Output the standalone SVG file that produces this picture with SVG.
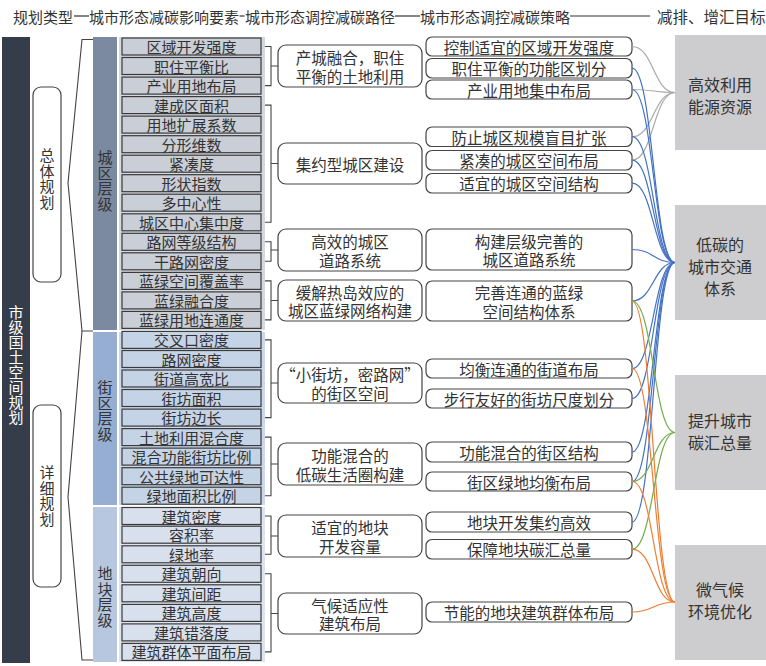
<svg xmlns="http://www.w3.org/2000/svg" width="766" height="666" viewBox="0 0 766 666">
<style>
text{font-family:"Noto Sans CJK SC","Noto Sans",sans-serif;fill:#333;dominant-baseline:central;text-anchor:middle}
.hd{font-size:15px;text-anchor:start}
.el{font-size:15px}
.md{font-size:15.5px}
.tg{font-size:16px}
.vt{font-size:15px;writing-mode:vertical-rl;text-orientation:upright}
.wt{fill:#fff}
.ebox{stroke:#3a3a3a;stroke-width:1.2}
.c1{fill:#c9ced7}.c2{fill:#c5d3e7}.c3{fill:#d8e0ed}
.pbox{fill:#fff;stroke:#444;stroke-width:1.2}
.tbox{fill:#cdcdcf}
.br{fill:none;stroke:#444;stroke-width:1.1}
.hl{stroke:#333;stroke-width:1.2}
.cn{fill:none;stroke-width:1.2}
.gr{stroke:#a9a9a9}.bl{stroke:#4472c4}.gn{stroke:#70ad47}.or{stroke:#ed7d31}
</style>
<rect width="766" height="666" fill="#fff"/>
<g id="header">
<text class="hd" x="13" y="16">规划类型</text>
<line class="hl" x1="74" y1="16" x2="89" y2="16"/>
<text class="hd" x="89" y="16">城市形态减碳影响要素</text>
<line class="hl" x1="239.5" y1="16" x2="244.5" y2="16"/>
<text class="hd" x="245" y="16">城市形态调控减碳路径</text>
<line class="hl" x1="395" y1="16" x2="420" y2="16"/>
<text class="hd" x="420" y="16">城市形态调控减碳策略</text>
<line class="hl" x1="570" y1="16" x2="650" y2="16"/>
<text class="hd" x="657" y="16" style="font-size:15.5px">减排、增汇目标</text>
</g>
<g id="plan-type">
<rect x="2" y="37" width="28" height="626" fill="#353d4b"/>
<text class="vt wt" x="16" y="365">市级国土空间规划</text>
</g>
<g id="overall-plan">
<rect x="33" y="87" width="28" height="195" rx="8" fill="#fff" stroke="#444" stroke-width="1.2"/>
<text class="vt" x="47" y="179" letter-spacing="0.5">总体规划</text>
</g>
<g id="detail-plan">
<rect x="33" y="405" width="28" height="182" rx="8" fill="#fff" stroke="#444" stroke-width="1.2"/>
<text class="vt" x="47" y="496" letter-spacing="0.5">详细规划</text>
</g>
<g id="plan-brackets">
<polyline class="br" points="93,39.5 82,39.5 68,183 82,331 93,331"/>
<polyline class="br" points="82,331 68,497 82,660 93,660"/>
</g>
<g id="level-city">
<rect x="93" y="37" width="24" height="293" fill="#7b8aa0"/>
<rect x="119" y="37" width="146" height="293" fill="#d3d7de"/>
<text class="vt" x="105" y="181" letter-spacing="0.5">城区层级</text>
</g>
<g id="level-block">
<rect x="93" y="332" width="24" height="173" fill="#95aed2"/>
<rect x="119" y="332" width="146" height="173" fill="#ccd8ea"/>
<text class="vt" x="105" y="411" letter-spacing="0.5">街区层级</text>
</g>
<g id="level-plot">
<rect x="93" y="507" width="24" height="155" fill="#b7c7df"/>
<rect x="119" y="507" width="146" height="155" fill="#dde4ef"/>
<text class="vt" x="105" y="597" letter-spacing="0.5">地块层级</text>
</g>
<g id="elements">
<g id="e1"><rect class="ebox c1" x="122" y="38" width="139" height="17"/><text class="el" x="191.5" y="46.5">区域开发强度</text></g>
<g id="e2"><rect class="ebox c1" x="122" y="57.5" width="139" height="17"/><text class="el" x="191.5" y="66">职住平衡比</text></g>
<g id="e3"><rect class="ebox c1" x="122" y="77.1" width="139" height="17"/><text class="el" x="191.5" y="85.6">产业用地布局</text></g>
<g id="e4"><rect class="ebox c1" x="122" y="96.6" width="139" height="17"/><text class="el" x="191.5" y="105.1">建成区面积</text></g>
<g id="e5"><rect class="ebox c1" x="122" y="116.1" width="139" height="17"/><text class="el" x="191.5" y="124.6">用地扩展系数</text></g>
<g id="e6"><rect class="ebox c1" x="122" y="135.7" width="139" height="17"/><text class="el" x="191.5" y="144.2">分形维数</text></g>
<g id="e7"><rect class="ebox c1" x="122" y="155.2" width="139" height="17"/><text class="el" x="191.5" y="163.7">紧凑度</text></g>
<g id="e8"><rect class="ebox c1" x="122" y="174.7" width="139" height="17"/><text class="el" x="191.5" y="183.2">形状指数</text></g>
<g id="e9"><rect class="ebox c1" x="122" y="194.2" width="139" height="17"/><text class="el" x="191.5" y="202.7">多中心性</text></g>
<g id="e10"><rect class="ebox c1" x="122" y="213.8" width="139" height="17"/><text class="el" x="191.5" y="222.3">城区中心集中度</text></g>
<g id="e11"><rect class="ebox c1" x="122" y="233.3" width="139" height="17"/><text class="el" x="191.5" y="241.8">路网等级结构</text></g>
<g id="e12"><rect class="ebox c1" x="122" y="252.8" width="139" height="17"/><text class="el" x="191.5" y="261.3">干路网密度</text></g>
<g id="e13"><rect class="ebox c1" x="122" y="272.4" width="139" height="17"/><text class="el" x="191.5" y="280.9">蓝绿空间覆盖率</text></g>
<g id="e14"><rect class="ebox c1" x="122" y="291.9" width="139" height="17"/><text class="el" x="191.5" y="300.4">蓝绿融合度</text></g>
<g id="e15"><rect class="ebox c1" x="122" y="311.4" width="139" height="17"/><text class="el" x="191.5" y="319.9">蓝绿用地连通度</text></g>
<g id="e16"><rect class="ebox c2" x="122" y="331.4" width="139" height="17"/><text class="el" x="191.5" y="339.9">交叉口密度</text></g>
<g id="e17"><rect class="ebox c2" x="122" y="350.5" width="139" height="17"/><text class="el" x="191.5" y="359">路网密度</text></g>
<g id="e18"><rect class="ebox c2" x="122" y="370" width="139" height="17"/><text class="el" x="191.5" y="378.5">街道高宽比</text></g>
<g id="e19"><rect class="ebox c2" x="122" y="389.5" width="139" height="17"/><text class="el" x="191.5" y="398">街坊面积</text></g>
<g id="e20"><rect class="ebox c2" x="122" y="409.1" width="139" height="17"/><text class="el" x="191.5" y="417.6">街坊边长</text></g>
<g id="e21"><rect class="ebox c2" x="122" y="428.6" width="139" height="17"/><text class="el" x="191.5" y="437.1">土地利用混合度</text></g>
<g id="e22"><rect class="ebox c2" x="122" y="448.1" width="139" height="17"/><text class="el" x="191.5" y="456.6">混合功能街坊比例</text></g>
<g id="e23"><rect class="ebox c2" x="122" y="467.7" width="139" height="17"/><text class="el" x="191.5" y="476.2">公共绿地可达性</text></g>
<g id="e24"><rect class="ebox c2" x="122" y="487.2" width="139" height="17"/><text class="el" x="191.5" y="495.7">绿地面积比例</text></g>
<g id="e25"><rect class="ebox c3" x="122" y="507.5" width="139" height="17"/><text class="el" x="191.5" y="516">建筑密度</text></g>
<g id="e26"><rect class="ebox c3" x="122" y="526.2" width="139" height="17"/><text class="el" x="191.5" y="534.7">容积率</text></g>
<g id="e27"><rect class="ebox c3" x="122" y="545.8" width="139" height="17"/><text class="el" x="191.5" y="554.3">绿地率</text></g>
<g id="e28"><rect class="ebox c3" x="122" y="565.3" width="139" height="17"/><text class="el" x="191.5" y="573.8">建筑朝向</text></g>
<g id="e29"><rect class="ebox c3" x="122" y="584.8" width="139" height="17"/><text class="el" x="191.5" y="593.3">建筑间距</text></g>
<g id="e30"><rect class="ebox c3" x="122" y="604.4" width="139" height="17"/><text class="el" x="191.5" y="612.9">建筑高度</text></g>
<g id="e31"><rect class="ebox c3" x="122" y="623.9" width="139" height="17"/><text class="el" x="191.5" y="632.4">建筑错落度</text></g>
<g id="e32"><rect class="ebox c3" x="122" y="643.4" width="139" height="17"/><text class="el" x="191.5" y="651.9">建筑群体平面布局</text></g>
</g>
<g id="group-brackets">
<path class="br" d="M265,46.5H271V85.6H265M271,66H278"/>
<path class="br" d="M265,105.1H271V222.3H265M271,163.5H278"/>
<path class="br" d="M265,241.8H271V261.3H265M271,250H278"/>
<path class="br" d="M265,280.9H271V319.9H265M271,300.5H278"/>
<path class="br" d="M265,339.9H271V417.6H265M271,383H278"/>
<path class="br" d="M265,437.1H271V495.7H265M271,464H278"/>
<path class="br" d="M265,516H271V554.3H265M271,536H278"/>
<path class="br" d="M265,573.8H271V651.9H265M271,613.5H278"/>
</g>
<g id="paths">
<g id="p1"><rect class="pbox" x="278" y="45" width="144" height="42" rx="8"/><text class="md" x="350" y="57">产城融合，职住<tspan x="350" dy="18.5">平衡的土地利用</tspan></text></g>
<g id="p2"><rect class="pbox" x="278" y="143" width="144" height="41" rx="8"/><text class="md" x="350" y="163.5">集约型城区建设</text></g>
<g id="p3"><rect class="pbox" x="278" y="229" width="144" height="42" rx="8"/><text class="md" x="350" y="241">高效的城区<tspan x="350" dy="18.5">道路系统</tspan></text></g>
<g id="p4"><rect class="pbox" x="278" y="280" width="144" height="41" rx="8"/><text class="md" x="350" y="291.5">缓解热岛效应的<tspan x="350" dy="18.5">城区蓝绿网络构建</tspan></text></g>
<g id="p5"><rect class="pbox" x="278" y="363" width="144" height="40" rx="8"/><text class="md" x="350" y="374">“小街坊，密路网”<tspan x="350" dy="18.5">的街区空间</tspan></text></g>
<g id="p6"><rect class="pbox" x="278" y="443" width="144" height="42" rx="8"/><text class="md" x="350" y="455">功能混合的<tspan x="350" dy="18.5">低碳生活圈构建</tspan></text></g>
<g id="p7"><rect class="pbox" x="278" y="515" width="144" height="42" rx="8"/><text class="md" x="350" y="527">适宜的地块<tspan x="350" dy="18.5">开发容量</tspan></text></g>
<g id="p8"><rect class="pbox" x="278" y="593" width="144" height="41" rx="8"/><text class="md" x="350" y="604.5">气候适应性<tspan x="350" dy="18.5">建筑布局</tspan></text></g>
</g>
<g id="strategies">
<g id="s1"><rect class="pbox" x="426" y="37" width="206" height="19" rx="6"/><text class="md" x="529" y="46.5">控制适宜的区域开发强度</text></g>
<g id="s2"><rect class="pbox" x="426" y="58.5" width="206" height="19.5" rx="6"/><text class="md" x="529" y="68.2">职住平衡的功能区划分</text></g>
<g id="s3"><rect class="pbox" x="426" y="80" width="206" height="19" rx="6"/><text class="md" x="529" y="89.5">产业用地集中布局</text></g>
<g id="s4"><rect class="pbox" x="426" y="127" width="206" height="19.5" rx="6"/><text class="md" x="529" y="136.7">防止城区规模盲目扩张</text></g>
<g id="s5"><rect class="pbox" x="426" y="150.5" width="206" height="19.5" rx="6"/><text class="md" x="529" y="160.2">紧凑的城区空间布局</text></g>
<g id="s6"><rect class="pbox" x="426" y="173.5" width="206" height="19.5" rx="6"/><text class="md" x="529" y="183.2">适宜的城区空间结构</text></g>
<g id="s7"><rect class="pbox" x="426" y="229" width="206" height="41" rx="6"/><text class="md" x="529" y="240.5">构建层级完善的<tspan x="529" dy="18.5">城区道路系统</tspan></text></g>
<g id="s8"><rect class="pbox" x="426" y="281" width="206" height="40" rx="6"/><text class="md" x="529" y="292">完善连通的蓝绿<tspan x="529" dy="18.5">空间结构体系</tspan></text></g>
<g id="s9"><rect class="pbox" x="426" y="359" width="206" height="19" rx="6"/><text class="md" x="529" y="368.5">均衡连通的街道布局</text></g>
<g id="s10"><rect class="pbox" x="426" y="389" width="206" height="19" rx="6"/><text class="md" x="529" y="398.5">步行友好的街坊尺度划分</text></g>
<g id="s11"><rect class="pbox" x="426" y="442" width="206" height="20" rx="6"/><text class="md" x="529" y="452">功能混合的街区结构</text></g>
<g id="s12"><rect class="pbox" x="426" y="472" width="206" height="19" rx="6"/><text class="md" x="529" y="481.5">街区绿地均衡布局</text></g>
<g id="s13"><rect class="pbox" x="426" y="512" width="206" height="20" rx="6"/><text class="md" x="529" y="522">地块开发集约高效</text></g>
<g id="s14"><rect class="pbox" x="426" y="539.5" width="206" height="19.5" rx="6"/><text class="md" x="529" y="549.2">保障地块碳汇总量</text></g>
<g id="s15"><rect class="pbox" x="426" y="602" width="206" height="20" rx="6"/><text class="md" x="529" y="612">节能的地块建筑群体布局</text></g>
</g>
<g id="targets">
<g id="t1"><rect class="tbox" x="675" y="35" width="91" height="115"/><text class="tg" x="720" y="84">高效利用<tspan x="720" dy="22">能源资源</tspan></text></g>
<g id="t2"><rect class="tbox" x="675" y="205" width="91" height="115"/><text class="tg" x="720" y="244">低碳的<tspan x="720" dy="22">城市交通</tspan><tspan x="720" dy="22">体系</tspan></text></g>
<g id="t3"><rect class="tbox" x="675" y="375" width="91" height="115"/><text class="tg" x="720" y="420">提升城市<tspan x="720" dy="22">碳汇总量</tspan></text></g>
<g id="t4"><rect class="tbox" x="675" y="545" width="91" height="115"/><text class="tg" x="720" y="589">微气候<tspan x="720" dy="22">环境优化</tspan></text></g>
</g>
<g id="connectors">
<path class="cn gr" d="M632,46.5C653.5,46.5 653.5,92.5 675,92.5"/>
<path class="cn gr" d="M632,89.5C653.5,89.5 653.5,92.5 675,92.5"/>
<path class="cn gr" d="M632,136.7C653.5,136.7 653.5,92.5 675,92.5"/>
<path class="cn gr" d="M632,160.2C653.5,160.2 653.5,92.5 675,92.5"/>
<path class="cn bl" d="M632,68.2C653.5,68.2 653.5,262.5 675,262.5"/>
<path class="cn bl" d="M632,89.5C653.5,89.5 653.5,262.5 675,262.5"/>
<path class="cn bl" d="M632,136.7C653.5,136.7 653.5,262.5 675,262.5"/>
<path class="cn bl" d="M632,160.2C653.5,160.2 653.5,262.5 675,262.5"/>
<path class="cn bl" d="M632,183.2C653.5,183.2 653.5,262.5 675,262.5"/>
<path class="cn bl" d="M632,249.5C653.5,249.5 653.5,262.5 675,262.5"/>
<path class="cn bl" d="M632,301C653.5,301 653.5,262.5 675,262.5"/>
<path class="cn bl" d="M632,368.5C653.5,368.5 653.5,262.5 675,262.5"/>
<path class="cn bl" d="M632,398.5C653.5,398.5 653.5,262.5 675,262.5"/>
<path class="cn bl" d="M632,452C653.5,452 653.5,262.5 675,262.5"/>
<path class="cn bl" d="M632,481.5C653.5,481.5 653.5,262.5 675,262.5"/>
<path class="cn bl" d="M632,522C653.5,522 653.5,262.5 675,262.5"/>
<path class="cn gn" d="M632,301C653.5,301 653.5,432.5 675,432.5"/>
<path class="cn gn" d="M632,481.5C653.5,481.5 653.5,432.5 675,432.5"/>
<path class="cn gn" d="M632,549.2C653.5,549.2 653.5,432.5 675,432.5"/>
<path class="cn or" d="M632,301C653.5,301 653.5,602 675,602"/>
<path class="cn or" d="M632,368.5C653.5,368.5 653.5,602 675,602"/>
<path class="cn or" d="M632,481.5C653.5,481.5 653.5,602 675,602"/>
<path class="cn or" d="M632,549.2C653.5,549.2 653.5,602 675,602"/>
<path class="cn or" d="M632,612C653.5,612 653.5,602 675,602"/>
</g>
</svg>
